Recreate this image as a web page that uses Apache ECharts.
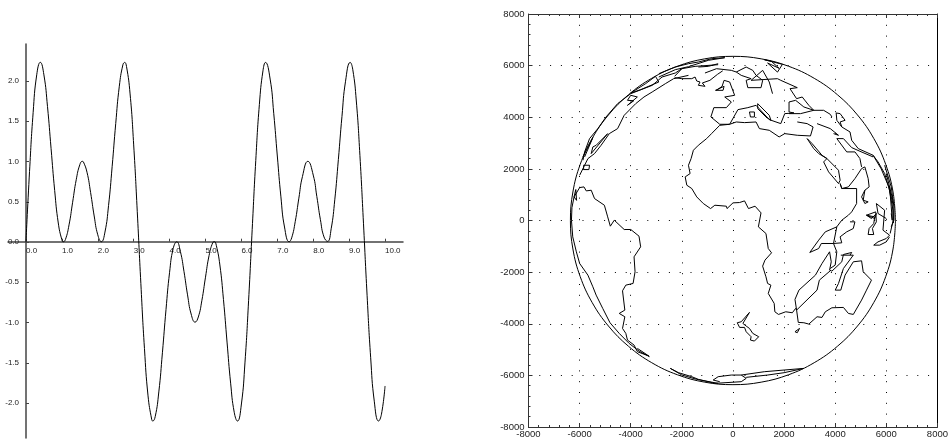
<!DOCTYPE html>
<html><head><meta charset="utf-8">
<style>html,body{margin:0;padding:0;background:#fff}#c{width:951px;height:439px}</style>
<script src="https://cdn.jsdelivr.net/npm/echarts@6/dist/echarts.min.js"></script>
</head><body><div id="c"></div>
<script>
// ---- left chart data
const curveX = [0,0.1,0.2,0.3,0.4,0.5,0.6,0.7,0.8,0.9,1,1.04,1.1,1.2,1.3,1.4,1.5,1.57,1.6,1.7,1.8,1.9,2,2.1,2.2,2.3,2.4,2.5,2.6,2.7,2.75,2.8,2.9,3,3.1,3.2,3.3,3.4,3.5,3.53,3.6,3.7,3.8,3.9,4,4.1,4.2,4.3,4.4,4.5,4.6,4.71,4.8,4.9,5,5.1,5.2,5.25,5.3,5.4,5.5,5.6,5.7,5.8,5.89,6,6.1,6.2,6.3,6.4,6.5,6.6,6.67,6.8,6.9,7,7.1,7.2,7.33,7.4,7.5,7.6,7.7,7.85,8,8.1,8.2,8.3,8.4,8.5,8.6,8.7,8.8,8.9,9.03,9.1,9.2,9.3,9.4,9.5,9.6,9.7,9.82,9.9,10];
const curveY = [0,0.875,1.605,2.076,2.231,2.075,1.68,1.157,0.636,0.233,0.024,0,0.028,0.21,0.491,0.771,0.958,1,0.993,0.864,0.613,0.32,0.086,0,0.12,0.449,0.933,1.47,1.934,2.201,2.23,2.18,1.838,1.204,0.373,-0.521,-1.327,-1.917,-2.206,-2.23,-2.174,-1.868,-1.381,-0.844,-0.38,-0.085,-0.001,-0.121,-0.368,-0.661,-0.899,-1,-0.936,-0.728,-0.441,-0.171,-0.013,0,-0.044,-0.289,-0.718,-1.248,-1.759,-2.121,-2.23,-2.018,-1.497,-0.734,0.151,1.011,1.705,2.125,2.23,2.023,1.597,1.066,0.558,0.183,0,0.048,0.253,0.542,0.811,1,0.829,0.563,0.274,0.059,0.004,0.161,0.521,1.022,1.557,1.996,2.23,2.145,1.75,1.074,0.223,-0.666,-1.443,-1.983,-2.23,-2.145,-1.794];

// ---- right chart data: outlines in map units
const limbCircle = [[6360,0],[6263,1104],[5976,2175],[5508,3180],[4872,4088],[4088,4872],[3180,5508],[2175,5976],[1104,6263],[0,6360],[-1104,6263],[-2175,5976],[-3180,5508],[-4088,4872],[-4872,4088],[-5508,3180],[-5976,2175],[-6263,1104],[-6360,0],[-6263,-1104],[-5976,-2175],[-5508,-3180],[-4872,-4088],[-4088,-4872],[-3180,-5508],[-2175,-5976],[-1104,-6263],[0,-6360],[1104,-6263],[2175,-5976],[3180,-5508],[4088,-4872],[4872,-4088],[5508,-3180],[5976,-2175],[6263,-1104],[6360,0]];
const americaWest = [[-6217,915],[-6300,500],[-6320,12],[-6269,-633],[-6127,-1214],[-5998,-1665],[-5676,-2117],[-5482,-2568],[-5353,-2891],[-5095,-3407],[-4811,-3961],[-4450,-4374],[-4063,-4761],[-3676,-5058],[-3263,-5277]];
const americaEast = [[-6217,915],[-5998,1276],[-5830,1302],[-5740,1147],[-5546,1173],[-5417,850],[-5031,592],[-4902,141],[-4798,-220],[-4644,12],[-4256,-349],[-3998,-349],[-3676,-607],[-3612,-1020],[-3870,-1407],[-3831,-1988],[-3908,-2439],[-4192,-2504],[-4321,-2723],[-4231,-3471],[-4450,-3600],[-4231,-3729],[-4321,-4181],[-4192,-4374],[-4128,-4632],[-3870,-4826],[-3740,-5084],[-3289,-5251],[-3353,-5174],[-3740,-4954]];
const northInner = [[-1741,5623],[-2321,5494],[-2644,5301],[-3160,4979],[-3482,4785],[-3805,4527],[-4257,4075],[-4514,3559],[-4837,3366],[-5160,2914],[-5417,2592],[-5675,2398],[-5805,2141],[-5998,1753]];
const northMiddle = [[-580,6036],[-1483,5972],[-2000,5881],[-2257,5714],[-2773,5559],[-3160,5236],[-3999,4914],[-4514,4527],[-4966,4011],[-5288,3559],[-5611,3172],[-5805,2656],[-5869,2334]];
const limbBits1 = [[-3999,4940],[-3418,5301],[-3031,5585],[-2902,5365],[-3611,5069],[-3999,4940]];
const limbBits2 = [[-2902,5688],[-2257,5946],[-1741,6075],[-1354,6140],[-838,6268],[-322,6307],[-967,6204],[-1741,5960],[-2257,5843],[-2902,5559]];
const sliver1 = [[-4128,4462],[-3741,4785],[-4000,4850],[-4128,4656],[-3880,4640],[-4128,4462]];
const sliver2 = [[-5547,2592],[-4901,3366],[-5353,2914],[-5482,2850],[-5547,2592]];
const smallBox = [[-5843,2141],[-5611,2141],[-5637,1973],[-5843,1973],[-5843,2141]];
const limbLeft = [[-5805,2463],[-5482,3211],[-5547,3211],[-5869,2463]];
const limbBits3 = [[-6217,915],[-6150,1200],[-6120,780],[-6217,915]];
const greenland = [[-2283,5533],[-2000,5495],[-1612,5495],[-1483,5559],[-1418,5404],[-1290,5366],[-1354,5237],[-1096,5198],[-1199,5327],[-902,5430],[-606,5662],[-400,5800]];
const greenlandTop = [[-2283,5585],[-2000,5881]];
const topLine = [[-1354,5946],[-967,5972],[-580,6075]];
const scandia = [[-1096,5714],[-645,5881],[-64,5817],[130,5752],[516,5946],[775,5817],[904,5623],[1162,5430],[1097,5146],[581,5146],[516,5430],[710,5494],[323,5623],[130,5752]];
const russiaArctic = [[1226,6230],[1935,6050],[1742,5750],[1355,6100],[1800,5900],[1500,6170],[1226,6230]];
const russiaCoast = [[710,5430],[1162,5817],[1420,5366],[1548,4914]];
const russiaNorth = [[710,5430],[1742,5494],[1871,5430],[2516,5146],[2232,5107],[2490,4720],[2710,4785],[2968,4462],[3161,4269],[3548,4269],[3806,4114],[3871,4011]];
const europeWest = [[-645,5043],[-425,5198],[-348,5430],[-129,5366],[65,4850],[-322,4785],[-64,4592],[-258,4372],[-748,4372],[-864,4011],[-516,3727]];
const britain = [[-683,5043],[-387,5043],[-348,5198],[-683,5043]];
const europeSouth = [[-516,3727],[-129,3727],[194,4295],[581,4372],[904,4462],[1420,3908],[1871,3753],[2026,4140],[2387,4166],[2194,4204]];
const italy = [[968,4527],[1420,4076],[1484,3882],[1290,4011],[968,4333],[968,4527]];
const sardinia = [[646,4204],[839,4204],[839,4011],[684,4011],[646,4204]];
const blackSea = [[2194,4204],[2194,4592],[2452,4656],[2774,4398],[3161,4269],[2645,4140],[2194,4140]];
const africaNorth = [[-516,3688],[-129,3727],[130,3817],[452,3792],[904,3817],[1033,3560],[1420,3495],[1807,3237],[2026,3366],[2516,3302],[3032,3276],[3135,3624],[2903,3753],[2516,3818]];
const africaWest = [[-516,3689],[-838,3366],[-1031,3172],[-1354,2915],[-1548,2721],[-1638,2399],[-1741,2140],[-1677,1818],[-1870,1689],[-1806,1367],[-1612,1238],[-1418,915],[-1160,657],[-877,463],[-709,592],[-258,554],[-232,463],[1,683],[259,696],[452,760],[607,463],[865,554],[1097,296],[994,-246],[1291,-504],[1381,-1085],[1510,-1252],[1252,-1536],[1161,-1768],[1291,-2181],[1355,-2439],[1484,-2504],[1381,-2826],[1613,-3213],[1639,-3536],[1781,-3639],[2065,-3536],[2323,-3574],[2452,-3406],[2490,-3471]];
const eastA = [[2490,-3471],[2426,-3058],[2581,-2697],[3226,-2117],[3484,-1665],[3780,-1213],[3845,-1600],[3780,-1923],[3871,-1962],[4258,-1600],[4322,-1317],[4645,-1239],[4580,-1343]];
const eastB = [[2490,-3471],[3290,-2697],[3380,-2310],[3806,-1949]];
const eastC = [[4219,-1343],[4709,-1343],[4322,-1859],[4129,-2439],[4000,-2697],[4219,-2697],[4386,-2117],[4709,-1600],[5032,-1562],[5096,-1987],[5419,-2310],[5225,-2697],[5032,-3084],[4709,-3639],[4516,-3600],[4322,-3368],[3871,-3381],[3612,-3536],[3484,-3755],[3290,-3729],[2968,-4013],[2774,-3961],[2555,-3948],[2490,-3471]];
const islandTiny = [[2426,-4309],[2606,-4180],[2516,-4348],[2426,-4309]];
const islandLong = [[646,-3561],[323,-3923],[168,-3961],[259,-4142],[452,-4142],[517,-4310],[710,-4503],[684,-4632],[839,-4671],[1007,-4503],[775,-4374],[646,-4181],[517,-4090],[388,-3987],[646,-3561]];
const eastL1 = [[3005,-1239],[3354,-762],[3612,-440],[4063,-246],[4257,12],[4515,205],[4645,334],[4838,657],[4838,1238],[4258,1238],[4193,1431]];
const eastL2 = [[3005,-1239],[3354,-1085],[3457,-891],[3934,-891],[4257,-865],[4192,-633],[4450,-440],[4708,-310],[4772,-52],[4579,-52]];
const eastL3 = [[4063,-246],[3934,-891],[4063,-1213],[3999,-1729],[3805,-1859]];
const eastIsle1 = [[5224,205],[5547,141],[5508,-117],[5327,-310],[5289,-543],[5508,-543],[5456,-310],[5611,-52],[5585,334],[5224,205]];
const eastIsle2 = [[5508,-955],[5675,-827],[5998,-698],[6127,-568],[5869,-375],[5934,399],[5611,657],[5548,721],[5677,270],[6000,76]];
const eastIsle3 = [[5508,-955],[5740,-955],[5998,-827],[6127,-633]];
const eastIsle4 = [[5225,205],[5419,76],[5612,270],[5548,76],[5225,205]];
const limbE1 = [[5935,2140],[6193,1302],[6300,528],[6300,12],[6192,-246]];
const limbE2 = [[6000,1818],[6257,786],[6270,12],[6150,-504]];
const limbE3 = [[6128,1302],[6193,528],[6231,12],[6192,270]];
const limbE4 = [[5483,2527],[5800,2000],[6100,1300],[6260,400],[6280,-100]];
const midEastCoast = [[4038,4166],[4064,3882],[4258,3624],[4580,3430],[4645,3108],[4903,2785],[5483,2527],[5677,2269],[5935,1818],[6128,1173],[6257,657]];
const caspian = [[4038,4166],[4193,4140],[4387,3882],[4193,3818],[4258,3624]];
const turkey = [[3290,3753],[3806,3560],[4129,3301],[3935,3366]];
const redSea = [[2903,3172],[3097,2979],[3484,2527],[3677,2399],[3355,2592],[3161,2785],[2903,3172]];
const oval = [[3677,2399],[4129,1947],[4193,1560],[4129,1431],[3742,1883],[3548,2269],[3677,2399]];
const lineR = [[4193,1431],[4258,1238],[4516,1302],[4774,1625],[5032,2011],[5161,2076],[5290,1625],[5328,1302],[5161,1173],[5096,786],[5290,721],[5161,657],[5032,915],[5161,1173]];
const lineS = [[5032,2076],[4967,2399],[4774,2657],[4451,2657],[4064,3172],[4322,3172],[4645,2824],[4967,2682],[5483,2463]];
const antarctic1 = [[-2451,-5729],[-2128,-5896],[-1612,-6051],[-1354,-6154],[-709,-6309],[323,-6245],[517,-6116],[323,-5987],[-64,-5987],[-580,-6051],[-774,-6180],[-516,-6245]];
const antarctic2 = [[-2451,-5729],[-1999,-5987],[-1418,-6154],[-580,-6309]];
const antarctic3 = [[323,-5987],[1226,-5858],[2000,-5793],[2774,-5729],[2000,-5896],[1355,-5987],[517,-6076]];

const outlines = [americaWest,americaEast,northInner,northMiddle,limbBits1,limbBits2,sliver1,sliver2,smallBox,limbLeft,limbBits3,greenland,greenlandTop,topLine,scandia,russiaArctic,russiaCoast,russiaNorth,europeWest,britain,europeSouth,italy,sardinia,blackSea,africaNorth,africaWest,eastA,eastB,eastC,islandTiny,islandLong,eastL1,eastL2,eastL3,eastIsle1,eastIsle2,eastIsle3,eastIsle4,limbE1,limbE2,limbE3,limbE4,midEastCoast,caspian,turkey,redSea,oval,lineR,lineS,antarctic1,antarctic2,antarctic3];

const leftFont = {fontFamily:'Liberation Sans',fontSize:8,color:'#222'};
const mapFont = {fontFamily:'Liberation Sans',fontSize:9.5,color:'#222'};
const axisCol = '#444';
const mapCol = '#333';
const plain = v=>String(v);

const chart = echarts.init(document.getElementById('c'),null,{renderer:'canvas'});
const mapLine = (d)=>({type:'line',xAxisIndex:2,yAxisIndex:2,data:d,showSymbol:false,symbol:'none',silent:true,
  lineStyle:{color:'#000',width:1},animation:false});
chart.setOption({
  animation:false,
  backgroundColor:'#fff',
  grid:[
    {left:8,top:44,width:395,height:394},
    {left:26,top:81,width:359,height:322},
    {left:528.5,top:14,width:413,height:413},
    {left:26,top:200,width:359,height:41.7}
  ],
  xAxis:[
    {gridIndex:0,type:'value',min:-0.5,max:10.5,splitLine:{show:false},axisLabel:{show:false},axisTick:{show:false},
      axisLine:{onZero:true,lineStyle:{color:axisCol,width:1.5}}},
    {gridIndex:1,type:'value',show:false,min:0,max:10},
    {gridIndex:2,type:'value',min:-8000,max:8000,interval:2000,position:'bottom',
      axisLine:{onZero:false,lineStyle:{color:mapCol,width:1}},
      axisTick:{inside:true,length:4,lineStyle:{color:mapCol}},
      minorTick:{show:true,splitNumber:5,length:2,lineStyle:{color:mapCol}},
      splitLine:{show:true,lineStyle:{color:'#000',width:1,type:[1,9.8]}},
      axisLabel:{...mapFont,margin:2,showMinLabel:true,showMaxLabel:true,formatter:plain}},
    {gridIndex:2,type:'value',min:-8000,max:8000,interval:2000,position:'top',
      axisLine:{onZero:false,lineStyle:{color:mapCol,width:1}},
      axisTick:{inside:true,length:4,lineStyle:{color:mapCol}},
      minorTick:{show:true,splitNumber:5,length:2,lineStyle:{color:mapCol}},
      splitLine:{show:false},axisLabel:{show:false}},
    {gridIndex:3,type:'value',min:0,max:10,interval:1,position:'bottom',splitLine:{show:false},
      axisLine:{show:false,onZero:false},axisTick:{show:true,inside:true,length:3,lineStyle:{color:axisCol}},
      axisLabel:{...leftFont,align:'left',margin:5,showMinLabel:true,showMaxLabel:true,formatter:v=>v.toFixed(1)}}
  ],
  yAxis:[
    {gridIndex:0,type:'value',min:-2.441,max:2.459,splitLine:{show:false},axisLabel:{show:false},axisTick:{show:false},
      axisLine:{onZero:true,lineStyle:{color:axisCol,width:1.5}}},
    {gridIndex:1,type:'value',min:-2,max:2,interval:0.5,splitLine:{show:false},
      axisLine:{show:false,onZero:false},axisTick:{show:true,inside:true,length:3,lineStyle:{color:axisCol}},
      axisLabel:{...leftFont,margin:7,padding:[3,0,0,0],showMinLabel:true,showMaxLabel:true,formatter:v=>v.toFixed(1)}},
    {gridIndex:2,type:'value',min:-8000,max:8000,interval:2000,position:'left',
      axisLine:{onZero:false,lineStyle:{color:mapCol,width:1}},
      axisTick:{inside:true,length:4,lineStyle:{color:mapCol}},
      minorTick:{show:true,splitNumber:5,length:2,lineStyle:{color:mapCol}},
      splitLine:{show:true,lineStyle:{color:'#000',width:1,type:[1,9.8]}},
      axisLabel:{...mapFont,margin:4,padding:[0,0,3,0],showMinLabel:true,showMaxLabel:true,formatter:plain}},
    {gridIndex:2,type:'value',min:-8000,max:8000,interval:2000,position:'right',
      axisLine:{onZero:false,lineStyle:{color:'#000',width:1}},
      axisTick:{show:false},splitLine:{show:false},axisLabel:{show:false}},
    {gridIndex:3,type:'value',show:false,min:0,max:1}
  ],
  series:[
    {type:'line',xAxisIndex:0,yAxisIndex:0,data:curveX.map((x,i)=>[x,curveY[i]]),smooth:0.5,symbol:'none',showSymbol:false,
      lineStyle:{color:'#000',width:1},silent:true},
    {...mapLine(limbCircle),smooth:0.4},
    ...outlines.map(mapLine)
  ]
});
</script></body></html>
